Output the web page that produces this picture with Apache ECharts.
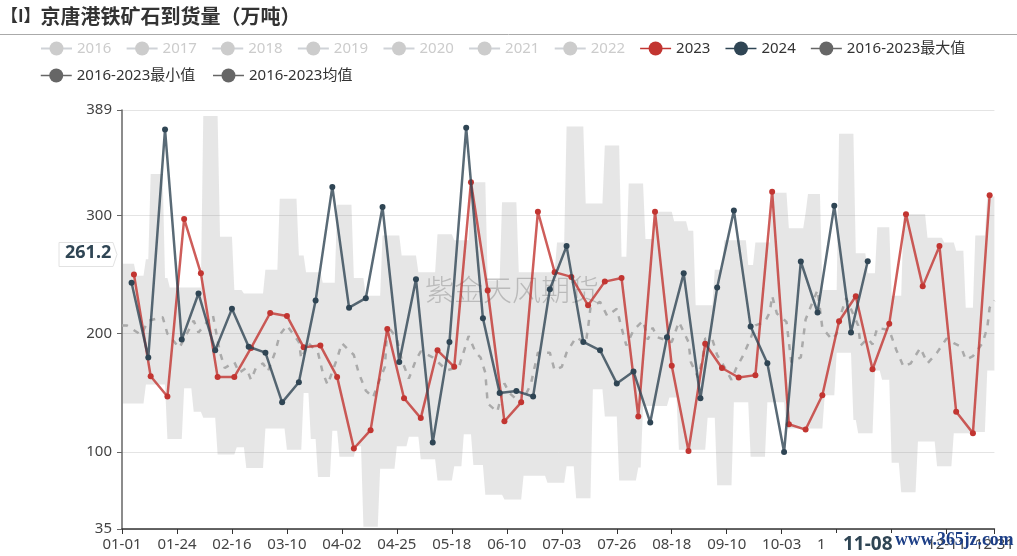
<!DOCTYPE html>
<html lang="zh">
<head>
<meta charset="UTF-8">
<title>京唐港铁矿石到货量</title>
<style>
html,body{margin:0;padding:0;background:#fff}
#main{width:1017px;height:556px}
</style>
<script src="https://cdn.jsdelivr.net/npm/echarts@6/dist/echarts.min.js"></script>
</head>
<body>
<div id="main"></div>
<script>
var monthDays = [31,29,31,30,31,30,31,31,30,31,30,31];
var emptyYears = ['2016','2017','2018','2019','2020','2021','2022'];
var nameMax = '2016-2023最大值', nameMin = '2016-2023最小值', nameAvg = '2016-2023均值';

// 周度数据，位置是当年日历上的周五
var values2023 = [250,164,147,297,251,163.5,163.5,188,217.5,215,188.5,190,163.5,103,118.5,204,145.5,128.7,186,172,328,236.5,126,142,303,252,248,224,244,247,130,303,173,101,191.5,171,163,165,320,123.5,119,148,210.5,231.6,170,208.5,301,240,274,134,116,317];
var values2024 = [243,180,372.6,195,234,186,221,189,184,142,159,228,324,222,230,307,176,246,108,193,374,213,150,151.5,147,237.5,274,193,186,158,168,125,197,251,145.5,239,304,206,175,100,261,218,308,201,261.2];

// 区间上沿、下沿：从第几天起变成这个值
var maxDays = [0,6,10,12,18,20,34,41,47,51,60,66,74,77,84,90,97,102,109,117,124,132,139,146,153,159,166,182,186,194,202,209,212,219,223,231,237,240,248,252,262,265,272,279,286,287,293,300,307,312,316,322,327,337,344,349,353,357,362];
var maxVals = [259,249,263,335,247,239,384,282,237,234,254,314,266,252,243,309,247,232,283,266,252,284,279,328,245,311,252,277,375,310,359,265,327,280,303,295,287,224,254,279,258,277,319,289,302,318,237,369,268,251,290,232,301,281,277,270,222,283,316];
var minDays = [0,10,19,26,30,34,40,48,52,60,69,76,79,82,88,91,98,101,108,115,120,125,132,139,143,147,152,160,168,178,186,190,197,202,208,216,218,229,233,245,249,256,263,270,278,294,299,306,308,315,318,322,326,333,341,348,356,362];
var minVals = [141,157,111,154,134,129,98,104,86.6,120,102,150,111,79,118,96,105,37,86,105,113,94,76,88,115,89,64,60,80,74,88,61,153,130,76,87,139,146,102,129,72,142,96,142,120,148,184,127,116,169,161,91,66,109,88,116,117,169];

var avgDays = [0,2,8,11,17,19,24,30,32,38,41,43,47,49,52,54,56,59,61,64,66,69,74,75,78,82,84,86,90,92,97,99,102,105,107,110,111,115,117,120,123,125,130,136,141,145,148,150,152,153,157,160,162,167,171,174,179,181,184,186,190,194,195,196,200,203,207,209,211,214,218,220,222,224,230,233,237,238,241,243,244,247,249,252,255,257,260,263,265,269,271,272,274,278,279,280,284,285,286,291,293,297,299,301,303,308,309,312,314,316,321,324,327,330,334,337,341,345,348,351,353,356,360,362,363,365];
var avgVals = [207,207,199,211,214,200,188,211,201,216,184,171,176,167,171,161,171,175,168,184,199,207,193,179,192,184,167,157,179,192,182,167,152,146,157,172,207,196,178,162,178,185,180,169,172,198,184,180,167,141,134,158,150,141,157,184,184,169,172,184,197,192,205,222,227,215,221,205,190,203,211,195,205,197,193,210,193,176,163,180,196,195,182,172,161,171,182,196,207,210,218,232,217,210,193,176,180,196,212,237,205,195,200,218,230,207,190,196,191,205,203,186,172,175,188,175,184,196,192,189,178,181,192,205,222,228];

var categories = [];
monthDays.forEach(function(n, m){
	for (var d = 1; d <= n; d++) {
		categories.push((m < 9 ? '0' : '') + (m + 1) + '-' + (d < 10 ? '0' : '') + d);
	}
});

// 把“从某天起的值”展开成每天一个值
function holdDaily(days, vals){
	var out = [], k = 0;
	for (var i = 0; i < categories.length; i++) {
		while (k + 1 < days.length && days[k + 1] <= i) k++;
		out.push(vals[k]);
	}
	return out;
}
var dailyMax = holdDaily(maxDays, maxVals);
var dailyMin = holdDaily(minDays, minVals);
var dailyRange = dailyMax.map(function(v, i){ return v - dailyMin[i]; });

var data2023 = values2023.map(function(v, i){ return [(i < 8 ? 5 : 6) + i * 7, v]; });
var data2024 = values2024.map(function(v, i){ return [4 + i * 7, v]; });
var dataAvg = avgDays.map(function(d, i){ return [d, avgVals[i]]; });

var fontName = '"Noto Sans","Noto Sans CJK SC",sans-serif';
var legendRow1 = [];
var legendSelected = {};
var series = [];
emptyYears.forEach(function(y){
	legendRow1.push({name: y, lineStyle: {width: 1.5}});
	legendSelected[y] = false;
	series.push({name: y, type: 'line', data: [], symbol: 'circle', itemStyle: {color: '#ccc'}});
});
legendRow1.push({name: '2023', lineStyle: {width: 1.5, opacity: 1}}, {name: '2024', lineStyle: {width: 1.5, opacity: 1}});
function greyLegend(n){
	return {name: n, itemStyle: {color: '#666', opacity: 1}, lineStyle: {color: '#666', opacity: 1, width: 1.5, type: 'solid'}};
}
legendRow1.push(greyLegend(nameMax));
var legendRow2 = [greyLegend(nameMin), greyLegend(nameAvg)];

function legendAt(top, gap, rowData){
	return {
		left: 40, top: top, padding: 0,
		itemWidth: 31, itemHeight: 17.5, itemGap: gap,
		inactiveColor: '#ccc',
		textStyle: {fontSize: 15, color: '#333', fontFamily: fontName},
		data: rowData,
		selected: legendSelected
	};
}

series.push({
	name: nameMin, type: 'line', stack: 'band', data: dailyMin, symbol: 'circle', showSymbol: false,
	lineStyle: {opacity: 0}, itemStyle: {color: '#666'}, silent: true, z: 1
});
series.push({
	name: nameMax, type: 'line', stack: 'band', data: dailyRange, symbol: 'circle', showSymbol: false,
	lineStyle: {opacity: 0}, itemStyle: {color: '#666'}, silent: true, z: 1,
	areaStyle: {color: '#8c8c8c', opacity: 0.22}
});
series.push({
	name: nameAvg, type: 'line', data: dataAvg, symbol: 'circle', showSymbol: false, z: 2,
	lineStyle: {color: '#aaa', width: 2.5, type: [6, 7]}, itemStyle: {color: '#666'}
});
series.push({
	name: '2023', type: 'line', data: data2023, symbol: 'circle', symbolSize: 6, showAllSymbol: true, connectNulls: true, z: 3,
	itemStyle: {color: '#c23531'}, lineStyle: {color: '#c23531', width: 2.5, opacity: 0.8}
});
series.push({
	name: '2024', type: 'line', data: data2024, symbol: 'circle', symbolSize: 6, showAllSymbol: true, connectNulls: true, z: 4,
	itemStyle: {color: '#2f4554'}, lineStyle: {color: '#2f4554', width: 2.5, opacity: 0.8}
});

var myChart = echarts.init(document.getElementById('main'));
myChart.setOption({
	animation: false,
	textStyle: {fontFamily: fontName},
	title: {
		text: '{a|【I】}{b|京唐港铁矿石到货量（万吨）}',
		left: 0, top: 1, padding: [5, 5, 5, 1],
		textStyle: {
			rich: {
				a: {fontSize: 17, fontWeight: 'bold', color: '#333', fontFamily: '"Noto Sans CJK SC",sans-serif'},
				b: {fontSize: 20, fontWeight: 'bold', color: '#333', fontFamily: '"Noto Sans CJK SC",sans-serif'}
			}
		}
	},
	legend: [legendAt(41, 14.3, legendRow1), legendAt(68, 17, legendRow2)],
	grid: {left: 122, right: 22, top: 110, bottom: 27, containLabel: false},
	xAxis: {
		type: 'category',
		data: categories,
		boundaryGap: false,
		axisLine: {lineStyle: {color: '#333', width: 1.5}},
		axisTick: {interval: 22, length: 5, lineStyle: {color: '#333'}},
		axisLabel: {interval: 22, showMaxLabel: true, fontSize: 15, color: '#444', margin: 8},
		splitLine: {show: false},
		axisPointer: {
			show: true, status: 'show', value: '11-08', type: 'line', snap: false,
			lineStyle: {opacity: 0},
			label: {show: true, backgroundColor: '#fff', color: '#2f4554', fontWeight: 'bold', fontSize: 19, margin: 7, padding: [2, 18], shadowBlur: 0}
		}
	},
	yAxis: {
		type: 'value',
		min: 35, max: 389, splitNumber: 4,
		axisLine: {show: true, lineStyle: {color: '#666', width: 1.5}},
		axisTick: {show: true, length: 5, lineStyle: {color: '#666'}},
		axisLabel: {fontSize: 15, color: '#444', margin: 10},
		splitLine: {lineStyle: {color: '#e4e4e4', width: 1}}
	},
	series: series,
	graphic: [
		{type: 'line', z: 10, shape: {x1: 0, y1: 34.5, x2: 1017, y2: 34.5}, style: {stroke: '#aaa', lineWidth: 1}},
		{type: 'polygon', z: 20, shape: {points: [[59, 242.5], [113, 242.5], [117, 254.5], [113, 266.5], [59, 266.5]]}, style: {fill: '#fff', stroke: '#e2e2e2', lineWidth: 1}},
		{type: 'text', z: 21, left: 65, top: 244, style: {text: String(values2024[values2024.length - 1]), fontSize: 18, fontWeight: 'bold', fill: '#2f4554', fontFamily: fontName}},
		{type: 'text', z: 0, left: 425, top: 275, style: {text: '紫金天风期货', fontSize: 29, fill: 'rgba(120,120,120,0.42)', fontFamily: '"Noto Sans CJK SC",sans-serif', fontWeight: 200}},
		{type: 'text', z: 100, left: 895, top: 531, style: {text: 'www.365jz.com', fontSize: 17.8, fill: '#1d3f87', fontFamily: '"Liberation Serif",serif', fontWeight: 'bold'}}
	]
});
</script>
</body>
</html>
